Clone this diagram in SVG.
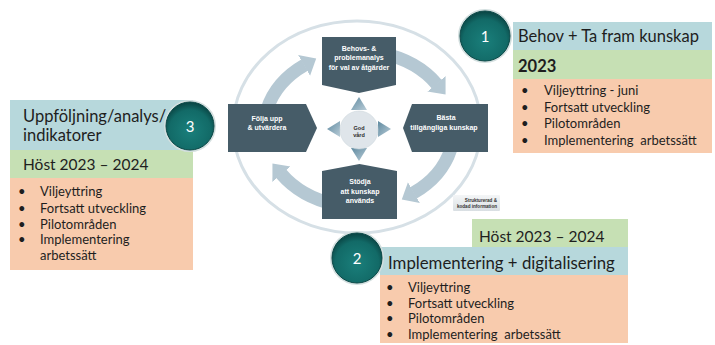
<svg xmlns="http://www.w3.org/2000/svg" width="715" height="345" viewBox="0 0 715 345">
<defs>
<style>
.node{fill:#465c68}
.nt{font-family:"Liberation Sans",Arial,sans-serif;font-weight:bold;font-size:7px;fill:#ffffff;text-anchor:middle}
.arc{fill:none;stroke:#b5c8d3;stroke-width:13;marker-end:url(#ah)}
.blue{fill:#b7d8dc}
.green{fill:#c6e0b4}
.orange{fill:#f8cbad}
.t{font-family:Lato,"Open Sans","Liberation Sans",sans-serif;fill:#1e1e1e}
.h{font-size:16.5px}
.b{font-size:13px}
.num{font-family:Lato,"Liberation Sans",sans-serif;font-size:15px;fill:#ffffff;text-anchor:middle}
.badge{fill:url(#badgeG);stroke:#0a4746;stroke-width:1}
.halo{fill:none;stroke:#d3dfdf;stroke-width:2}
.tri{fill:url(#triG)}
</style>
<marker id="ah" viewBox="0 -13 15 26" markerWidth="15" markerHeight="26" refX="0.5" refY="0" orient="auto" markerUnits="userSpaceOnUse">
<path d="M0,-12 L14,0 L0,12 Z" fill="#b5c8d3"/>
</marker>
<radialGradient id="badgeG" cx="50%" cy="60%" r="58%">
<stop offset="0%" stop-color="#1a7f7b"/>
<stop offset="75%" stop-color="#126a67"/>
<stop offset="100%" stop-color="#0a4746"/>
</radialGradient>
<linearGradient id="triG" x1="0" y1="0" x2="1" y2="1">
<stop offset="0%" stop-color="#5f8aa0"/>
<stop offset="100%" stop-color="#b9ccd7"/>
</linearGradient>
<linearGradient id="calloutG" x1="0" y1="0" x2="0" y2="1">
<stop offset="0%" stop-color="#f4f6f7"/>
<stop offset="100%" stop-color="#d9dfe3"/>
</linearGradient>
</defs>

<rect width="715" height="345" fill="#ffffff"/>

<g id="ring">
<ellipse cx="357" cy="127" rx="124" ry="106" fill="none" stroke="#d6e0e6" stroke-width="3"/>
</g>

<g id="connectors">
<path class="arc" d="M267.2,108.8 A95,78 0 0 1 304.5,65.1"/>
<path class="arc" d="M383.6,53.7 A95,78 0 0 1 436.8,84.2"/>
<path class="arc" d="M450.8,149.2 A95,78 0 0 1 413.5,192.9"/>
<path class="arc" d="M334.4,204.3 A95,78 0 0 1 281.2,173.8"/>
</g>

<g id="node-behovs">
<path class="node" d="M322,37 H396 V85 L359,93 L322,85 Z"/>
<text class="nt" x="359" y="50.5">Behovs- &amp;</text>
<text class="nt" x="359" y="60">problemanalys</text>
<text class="nt" x="359" y="69.5">för val av åtgärder</text>
</g>

<g id="node-basta">
<path class="node" d="M412,104 H488 V152 H412 L403,128 Z"/>
<text class="nt" x="446" y="120">Bästa</text>
<text class="nt" x="444" y="129.5">tillgängliga kunskap</text>
</g>

<g id="node-stodja">
<path class="node" d="M322,171 L359.5,164 L397,171 V219 H322 Z"/>
<text class="nt" x="360" y="184">Stödja</text>
<text class="nt" x="360" y="193.5">att kunskap</text>
<text class="nt" x="360" y="203">används</text>
</g>

<g id="node-folja">
<path class="node" d="M228,104 H306 L317,128 L306,152 H228 Z"/>
<text class="nt" x="267" y="121">Följa upp</text>
<text class="nt" x="267" y="130">&amp; utvärdera</text>
</g>

<g id="node-god-vard">
<path class="tri" d="M359,97 L367,110 L351,110 Z"/>
<path class="tri" d="M391,129 L378,137 L378,121 Z"/>
<path class="tri" d="M359,161 L351,148 L367,148 Z"/>
<path class="tri" d="M327,129 L340,121 L340,137 Z"/>
<circle cx="359" cy="130" r="19" fill="#dfe5ea" stroke="#cfd8de" stroke-width="0.6"/>
<text x="359" y="129.5" font-family="Liberation Sans, Arial, sans-serif" font-weight="bold" font-size="5.5" fill="#2b2b2b" text-anchor="middle">God</text>
<text x="359" y="137" font-family="Liberation Sans, Arial, sans-serif" font-weight="bold" font-size="5.5" fill="#2b2b2b" text-anchor="middle">vård</text>
</g>

<g id="callout-info">
<rect x="453" y="195" width="47" height="16" rx="1" fill="url(#calloutG)"/>
<text x="497" y="201.5" font-family="Liberation Sans, Arial, sans-serif" font-weight="bold" font-size="4.6" fill="#333333" text-anchor="end">Strukturerad &amp;</text>
<text x="497" y="207.5" font-family="Liberation Sans, Arial, sans-serif" font-weight="bold" font-size="4.6" fill="#333333" text-anchor="end">kodad information</text>
</g>

<g id="panel-1">
<rect class="blue" x="513" y="22" width="199" height="28"/>
<rect class="green" x="513" y="50" width="199" height="29"/>
<rect class="orange" x="513" y="79" width="199" height="74"/>
<text class="t h" x="518" y="42">Behov + Ta fram kunskap</text>
<text class="t h" x="518" y="72" font-weight="bold">2023</text>
<g class="t b">
<text x="521" y="95">•</text><text x="544" y="95">Viljeyttring - juni</text>
<text x="521" y="111.7">•</text><text x="544" y="111.7">Fortsatt utveckling</text>
<text x="521" y="128.4">•</text><text x="544" y="128.4">Pilotområden</text>
<text x="521" y="145.1">•</text><text x="544" y="145.1" xml:space="preserve">Implementering  arbetssätt</text>
</g>
</g>

<g id="badge-1">
<circle class="halo" cx="485" cy="36" r="26"/>
<circle class="badge" cx="485" cy="36" r="25"/>
<text class="num" x="485" y="41.5">1</text>
</g>

<g id="panel-3">
<rect class="blue" x="10" y="100" width="183" height="50"/>
<rect class="green" x="10" y="150" width="183" height="28"/>
<rect class="orange" x="10" y="178" width="183" height="92"/>
<text class="t h" x="23" y="122.3">Uppföljning/analys/</text>
<text class="t h" x="23" y="141">indikatorer</text>
<text class="t" x="23" y="170" font-size="15.5">Höst 2023 – 2024</text>
<g class="t b">
<text x="18" y="196">•</text><text x="40" y="196">Viljeyttring</text>
<text x="18" y="212.5">•</text><text x="40" y="212.5">Fortsatt utveckling</text>
<text x="18" y="228.7">•</text><text x="40" y="228.7">Pilotområden</text>
<text x="18" y="244.3">•</text><text x="40" y="244.3">Implementering</text>
<text x="40" y="260">arbetssätt</text>
</g>
</g>

<g id="badge-3">
<circle class="halo" cx="190" cy="126" r="25"/>
<circle class="badge" cx="190" cy="126" r="24"/>
<text class="num" x="190" y="131.5">3</text>
</g>

<g id="panel-2">
<rect class="green" x="472" y="219" width="156" height="28"/>
<rect class="blue" x="380" y="247" width="248" height="28"/>
<rect class="orange" x="380" y="275" width="248" height="68"/>
<text class="t" x="479" y="242.3" font-size="15.5">Höst 2023 – 2024</text>
<text class="t" x="388" y="269.3" font-size="16.8">Implementering + digitalisering</text>
<g class="t b">
<text x="386" y="291.7">•</text><text x="408" y="291.7">Viljeyttring</text>
<text x="386" y="307.7">•</text><text x="408" y="307.7">Fortsatt utveckling</text>
<text x="386" y="323.3">•</text><text x="408" y="323.3">Pilotområden</text>
<text x="386" y="339">•</text><text x="408" y="339" xml:space="preserve">Implementering  arbetssätt</text>
</g>
</g>

<g id="badge-2">
<circle class="halo" cx="357" cy="258" r="26"/>
<circle class="badge" cx="357" cy="258" r="25"/>
<text class="num" x="357" y="263.5">2</text>
</g>
</svg>
